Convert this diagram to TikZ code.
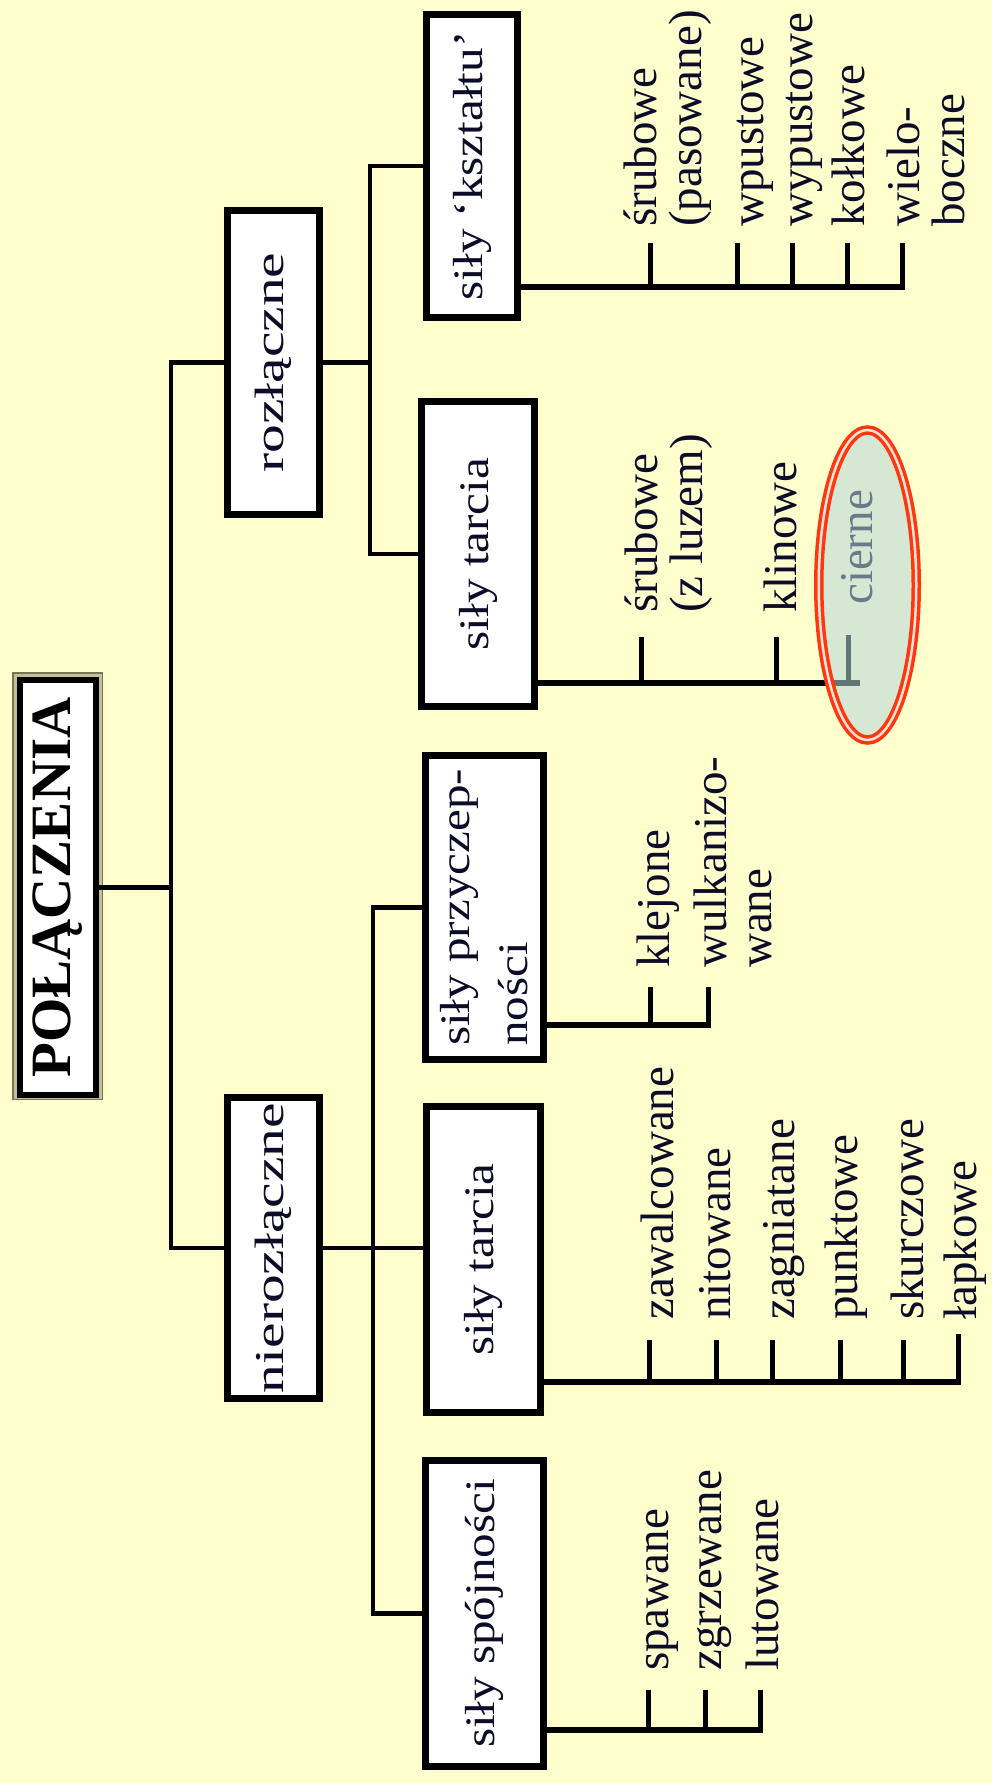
\documentclass[tikz,border=0pt]{standalone}
\usepackage{fontspec}
\setmainfont{Liberation Serif}
\newfontfamily\widefont[FakeStretch=1.4]{Liberation Serif}
\newfontfamily\semiwidefont[FakeStretch=1.17]{Liberation Serif}
\definecolor{paper}{RGB}{255,254,205}
\definecolor{ink}{RGB}{12,12,40}
\definecolor{frametan}{RGB}{196,190,150}
\definecolor{frameolive}{RGB}{120,116,90}
\definecolor{ringred}{RGB}{255,55,15}
\definecolor{ringgap}{RGB}{255,228,215}
\definecolor{ringfill}{RGB}{182,215,218}
\tikzset{
  box/.style={draw=black, line width=7pt, fill=white, rotate=90, inner sep=0pt, text=ink, align=center},
  topbox/.style={box, font=\widefont\fontsize{41}{46}\selectfont},
  subbox/.style={box, font=\semiwidefont\fontsize{42}{58}\selectfont},
  titlebox/.style={draw=black, line width=6pt, fill=white, rotate=90, inner sep=0pt, text=black, font=\fontsize{57}{60}\selectfont\bfseries},
  tree/.style={line width=4.5pt},
  leafline/.style={line width=6pt, line cap=rect},
  tick/.style={line width=5pt},
  leaf/.style={rotate=90, anchor=base west, inner sep=0pt, align=left, text=ink, font=\fontsize{47}{45}\selectfont},
  ring/.style={draw=ringred, line width=3.5pt, double=ringgap, double distance=2.5pt, fill=ringfill, fill opacity=0.55},
}
\begin{document}
\begin{tikzpicture}[x=1pt,y=-1pt]
  \useasboundingbox (0,0) rectangle (992,1783);
  \fill[paper] (0,0) rectangle (992,1783);

  % title
  \draw[frameolive, fill=frametan, line width=1.5pt] (12.75,672.75) rectangle (102.25,1099.25);
  \node[titlebox, minimum width=415pt, minimum height=76pt] (title) at (58,887.5) {POŁĄCZENIA};

  % boxes
  \node[topbox, minimum width=304pt, minimum height=92pt] (rozl) at (273.5,362.5) {rozłączne};
  \node[topbox, minimum width=301pt, minimum height=92pt] (nier) at (273.5,1248) {nierozłączne};
  \node[subbox, minimum width=303pt, minimum height=91pt] (kszt) at (472,166) {siły ‘kształtu’};
  \node[subbox, minimum width=305pt, minimum height=113pt] (tarR) at (478,554) {siły tarcia};
  \node[subbox, minimum width=304pt, minimum height=118pt, align=left] (przy) at (484.5,907.5) {siły przyczep-\\ności};
  \node[subbox, minimum width=306pt, minimum height=114pt] (tarN) at (483.5,1259.5) {siły tarcia};
  \node[subbox, minimum width=306pt, minimum height=118pt] (spoj) at (484.5,1613.5) {siły spójności};

  % tree
  \coordinate (trunk) at (171,887.5);
  \coordinate (rfork) at (370,362.5);
  \coordinate (nfork) at (373,1248);
  \draw[tree] (title.south) -- (trunk);
  \draw[tree] (rozl.north) -| (trunk) |- (nier.north);
  \draw[tree] (rozl.south) -- (rfork);
  \draw[tree] (kszt.north) -| (rfork) |- (tarR.north);
  \draw[tree] (nier.south) -- (nfork) -- (nfork -| tarN.north);
  \draw[tree] (przy.north) -| (nfork) |- (spoj.north);

  % siły 'kształtu'
  \coordinate (aEnd) at (902,287);
  \coordinate (a1) at (650,243);
  \coordinate (a2) at (737,243);
  \coordinate (a3) at (792,243);
  \coordinate (a4) at (847,243);
  \coordinate (a5) at (902,243);
  \draw[leafline] (kszt.south |- aEnd) -- (aEnd);
  \draw[tick] (a1) -- (a1 |- aEnd) (a2) -- (a2 |- aEnd) (a3) -- (a3 |- aEnd)
    (a4) -- (a4 |- aEnd) (a5) -- (a5 |- aEnd);
  \node[leaf] (aL1) at (701,227) {śrubowe\\(pasowane)};
  \node[leaf] (aL2) at (763,227) {wpustowe};
  \node[leaf] (aL3) at (812,227) {wypustowe};
  \node[leaf] (aL4) at (864,227) {kołkowe};
  \node[leaf] (aL5) at (964,227) {wielo-\\boczne};

  % siły tarcia (rozłączne)
  \coordinate (bEnd) at (857,683);
  \coordinate (b1) at (641,637);
  \coordinate (b2) at (776,637);
  \coordinate (b3) at (848,635);
  \draw[leafline] (tarR.south |- bEnd) -- (bEnd);
  \draw[tick] (b1) -- (b1 |- bEnd) (b2) -- (b2 |- bEnd) (b3) -- (b3 |- bEnd);
  \node[leaf] (bL1) at (702,613) {śrubowe\\(z luzem)};
  \node[leaf] (bL2) at (796,613) {klinowe};
  \node[leaf] (bL3) at (872,605) {cierne};
  \draw[ring] (867.5,585) ellipse [x radius=48.75, y radius=155];

  % siły przyczepności
  \coordinate (cEnd) at (708,1025);
  \coordinate (c1) at (650,987);
  \coordinate (c2) at (708,987);
  \draw[leafline] (przy.south |- cEnd) -- (cEnd);
  \draw[tick] (c1) -- (c1 |- cEnd) (c2) -- (c2 |- cEnd);
  \node[leaf] (cL1) at (669,968) {klejone};
  \node[leaf] (cL2) at (771,968) {wulkanizo-\\wane};

  % siły tarcia (nierozłączne)
  \coordinate (dEnd) at (958,1382);
  \coordinate (d1) at (649,1340);
  \coordinate (d2) at (716,1340);
  \coordinate (d3) at (772,1340);
  \coordinate (d4) at (840,1340);
  \coordinate (d5) at (903,1340);
  \coordinate (d6) at (958,1334);
  \draw[leafline] (tarN.south |- dEnd) -- (dEnd);
  \draw[tick] (d1) -- (d1 |- dEnd) (d2) -- (d2 |- dEnd) (d3) -- (d3 |- dEnd)
    (d4) -- (d4 |- dEnd) (d5) -- (d5 |- dEnd) (d6) -- (d6 |- dEnd);
  \node[leaf] (dL1) at (673,1320) {zawalcowane};
  \node[leaf] (dL2) at (730,1320) {nitowane};
  \node[leaf] (dL3) at (794,1320) {zagniatane};
  \node[leaf] (dL4) at (857,1320) {punktowe};
  \node[leaf] (dL5) at (923,1320) {skurczowe};
  \node[leaf] (dL6) at (976,1320) {łapkowe};

  % siły spójności
  \coordinate (eEnd) at (760,1730);
  \coordinate (e1) at (648,1690);
  \coordinate (e2) at (705,1690);
  \coordinate (e3) at (760,1690);
  \draw[leafline] (spoj.south |- eEnd) -- (eEnd);
  \draw[tick] (e1) -- (e1 |- eEnd) (e2) -- (e2 |- eEnd) (e3) -- (e3 |- eEnd);
  \node[leaf] (eL1) at (668,1671) {spawane};
  \node[leaf] (eL2) at (721,1671) {zgrzewane};
  \node[leaf] (eL3) at (778,1671) {lutowane};
\end{tikzpicture}
\end{document}
